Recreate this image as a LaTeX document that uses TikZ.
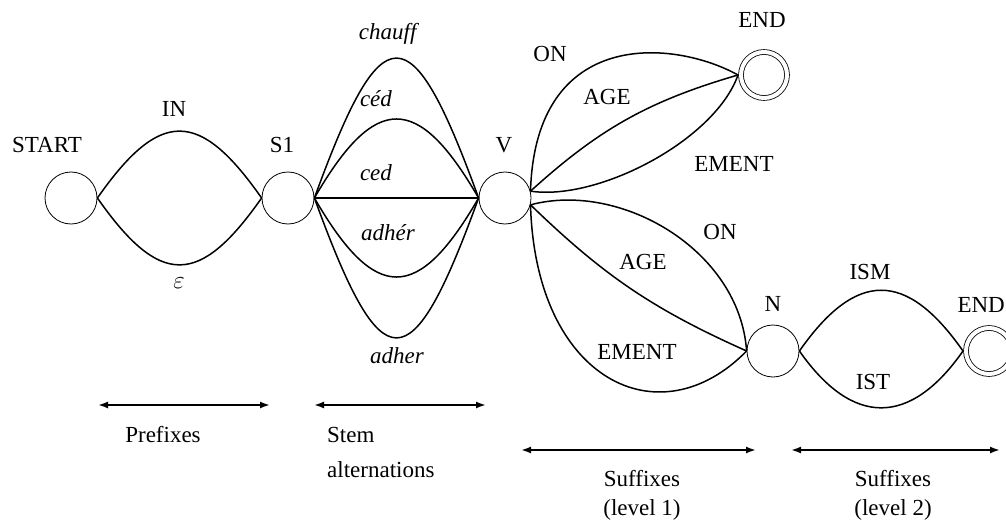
\documentclass[tikz,border=0pt]{standalone}
\usepackage{fontspec}
\setmainfont{Liberation Serif}
\usetikzlibrary{arrows.meta}
\tikzset{
	state/.style={circle, draw, line width=0.8pt, minimum size=52pt, inner sep=0pt},
	final/.style={state, double, double distance=4pt, minimum size=46pt, outer sep=3pt},
	trans/.style={line width=1.5pt},
	lbl/.style={anchor=base, inner sep=0pt, font=\fontsize{23}{27}\selectfont},
	levelarrow/.style={line width=1.8pt, {Latex[length=10pt,width=7pt]}-{Latex[length=10pt,width=7pt]}}
}

\begin{document}
\begin{tikzpicture}[x=1pt, y=1pt]
    \useasboundingbox (0,0) rectangle (1006,-524);

    % States
    \node[state] (start) at (71,-198) {};
    \node[state] (s1) at (288,-198) {};
    \node[state] (v) at (505,-198) {};
    \node[final] (end1) at (764,-75) {};
    \node[state] (n) at (773,-351) {};
    \node[final] (end2) at (989,-351) {};

    % State names
    \node[lbl] (start-l) at (47,-152) {START};
    \node[lbl] (s1-l) at (282,-152) {S1};
    \node[lbl] (v-l) at (504,-153) {V};
    \node[lbl] (end1-l) at (762,-28) {END};
    \node[lbl] (n-l) at (773,-311) {N};
    \node[lbl, anchor=base east] (end2-l) at (1005,-312) {END};

    % Prefixes
    \draw[trans] (start.east) to[out=55, in=125, looseness=1.7] (s1.west);
    \draw[trans] (start.east) to[out=-55, in=-125, looseness=1.7] (s1.west);
    \node[lbl] (in-l) at (174,-117) {IN};
    \node[lbl] (eps-l) at (179,-288) {$\varepsilon$};

    % Stem alternations
    \foreach \a/\loose in {70/3.1, 60/1.9, -60/1.9, -70/3.1} {
      \draw[trans] (s1.east) to[out=\a, in=180-\a, looseness=\loose] (v.west);
    }
    \draw[trans] (s1.east) -- (v.west);
    \node[lbl] (chauff-l) at (389,-40) {\textit{chauff}};
    \node[lbl] (ced1-l) at (376,-107) {\textit{céd}};
    \node[lbl] (ced2-l) at (376,-180) {\textit{ced}};
    \node[lbl] (adher1-l) at (388,-240) {\textit{adhér}};
    \node[lbl] (adher2-l) at (397,-363) {\textit{adher}};

    % Suffixes, level 1
    \draw[trans] (v.15) .. controls +(5,165) and +(-63,35) .. (end1.west);
    \draw[trans] (v.15) to[bend left=13] (end1.west);
    \draw[trans] (v.15) .. controls +(68,-10) and +(-23,-65) .. (end1.west);
    \draw[trans] (v.-15) .. controls +(90,24) and +(-7,101) .. (n.west);
    \draw[trans] (v.-15) to[bend right=10] (n.west);
    \draw[trans] (v.-15) .. controls +(5,-176) and +(-87,-89) .. (n.west);
    \node[lbl] (on1-l) at (550,-62) {ON};
    \node[lbl] (age1-l) at (607,-105) {AGE};
    \node[lbl] (ement1-l) at (734,-171) {EMENT};
    \node[lbl] (on2-l) at (720,-239) {ON};
    \node[lbl] (age2-l) at (643,-269) {AGE};
    \node[lbl] (ement2-l) at (637,-359) {EMENT};

    % Suffixes, level 2
    \draw[trans] (n.east) to[out=55, in=125, looseness=1.55] (end2.west);
    \draw[trans] (n.east) to[out=-55, in=-125, looseness=1.45] (end2.west);
    \node[lbl] (ism-l) at (870,-279) {ISM};
    \node[lbl] (ist-l) at (873,-389) {IST};

    % Ranges below
    \coordinate (pre-a) at (98,-405);
    \coordinate (pre-b) at (270,-405);
    \coordinate (stem-a) at (314,-405);
    \coordinate (stem-b) at (486,-405);
    \coordinate (suf1-a) at (521,-450);
    \coordinate (suf1-b) at (756,-450);
    \coordinate (suf2-a) at (791,-450);
    \coordinate (suf2-b) at (1000,-450);
    \draw[levelarrow] (pre-a) -- (pre-b);
    \draw[levelarrow] (stem-a) -- (stem-b);
    \draw[levelarrow] (suf1-a) -- (suf1-b);
    \draw[levelarrow] (suf2-a) -- (suf2-b);
    \node[lbl] (pre-t) at (163,-442) {Prefixes};
    \node[lbl, anchor=base west] (stem-t1) at (327,-442) {Stem};
    \node[lbl, anchor=base west] (stem-t2) at (327,-477) {alternations};
    \node[lbl] (suf1-t1) at (642,-486) {Suffixes};
    \node[lbl] (suf1-t2) at (642,-515) {(level 1)};
    \node[lbl] (suf2-t1) at (893,-486) {Suffixes};
    \node[lbl] (suf2-t2) at (893,-515) {(level 2)};
\end{tikzpicture}
\end{document}
